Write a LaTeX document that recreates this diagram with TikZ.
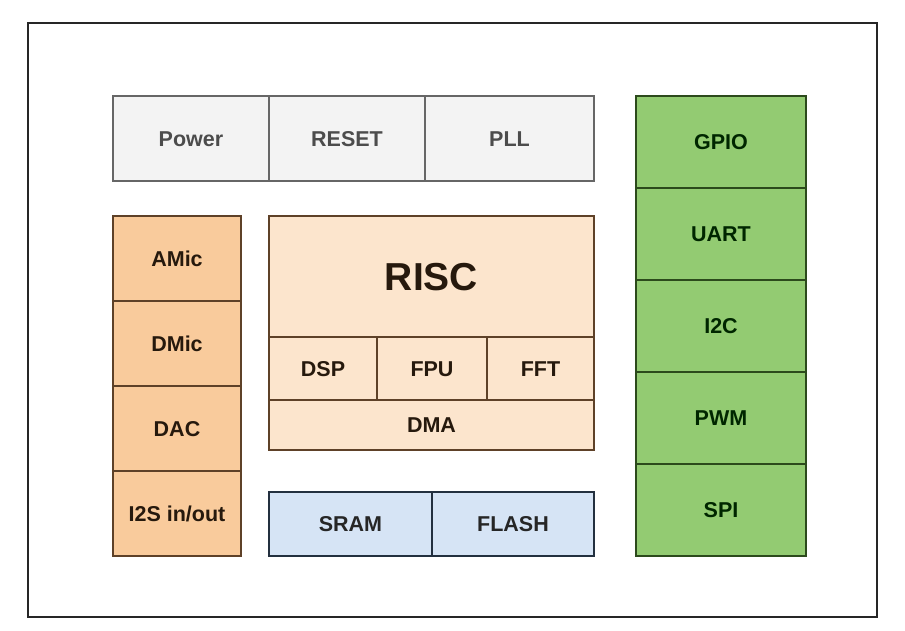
\documentclass[tikz,border=0pt]{standalone}
\usepackage{fontspec}
\setmainfont{Liberation Sans}
\usepackage{xcolor}
\usepackage{tikz}

\definecolor{greyfill}{HTML}{F3F3F3}
\definecolor{greyline}{HTML}{666666}
\definecolor{micfill}{HTML}{F9CB9C}
\definecolor{micline}{HTML}{5E4128}
\definecolor{riscfill}{HTML}{FCE5CD}
\definecolor{memfill}{HTML}{D6E4F5}
\definecolor{memline}{HTML}{23303F}
\definecolor{iofill}{HTML}{93CB72}
\definecolor{ioline}{HTML}{2C4A1C}

\begin{document}
\begin{tikzpicture}[x=1pt, y=-1pt]
			\tikzstyle{every node}=[anchor=north west, inner sep=0pt, draw, line width=2pt, text height=15.5pt, text depth=0pt, font=\bfseries\fontsize{21.5}{25}\selectfont];
			\tikzstyle{greybox}=[fill=greyfill, draw=greyline, text=black!70, minimum height=85pt];
			\tikzstyle{micbox}=[fill=micfill, draw=micline, text=black!80!brown, minimum width=128pt, minimum height=85pt];
			\tikzstyle{riscbox}=[fill=riscfill, draw=micline, text=black!80!brown];
			\tikzstyle{membox}=[fill=memfill, draw=memline, text=black!85, minimum height=64pt];
			\tikzstyle{iobox}=[fill=iofill, draw=ioline, text=black!85!green, minimum width=170pt, minimum height=92pt];
			
			%Frame
			\useasboundingbox (0, 0) rectangle (905, 631);
			\draw[black!85, line width=1.8pt] (28, 23) rectangle (877, 617);
			
			%Top row
			\node[greybox, minimum width=156pt] (power) at (112, 95) {Power};
			\node[greybox, minimum width=156pt] (reset) at (268, 95) {RESET};
			\node[greybox, minimum width=169pt] (pll) at (424, 95) {PLL};
			
			%Audio column
			\node[micbox] (amic) at (112, 215) {AMic};
			\node[micbox] (dmic) at (112, 300) {DMic};
			\node[micbox] (dac) at (112, 385) {DAC};
			\node[micbox] (i2s) at (112, 470) {I2S in/out};
			
			%Core
			\node[riscbox, minimum width=325pt, minimum height=121pt, text height=28pt, font=\bfseries\fontsize{39}{44}\selectfont] (risc) at (268, 215) {RISC};
			\node[riscbox, minimum width=108pt, minimum height=63pt] (dsp) at (268, 336) {DSP};
			\node[riscbox, minimum width=110pt, minimum height=63pt] (fpu) at (376, 336) {FPU};
			\node[riscbox, minimum width=107pt, minimum height=63pt] (fft) at (486, 336) {FFT};
			\node[riscbox, minimum width=325pt, minimum height=50pt] (dma) at (268, 399) {DMA};
			
			%Memory
			\node[membox, minimum width=163pt] (sram) at (268, 491) {SRAM};
			\node[membox, minimum width=162pt] (flash) at (431, 491) {FLASH};
			
			%Peripherals
			\node[iobox] (gpio) at (635, 95) {GPIO};
			\node[iobox] (uart) at (635, 187) {UART};
			\node[iobox] (i2c) at (635, 279) {I2C};
			\node[iobox] (pwm) at (635, 371) {PWM};
			\node[iobox] (spi) at (635, 463) {SPI};
\end{tikzpicture}
\end{document}
